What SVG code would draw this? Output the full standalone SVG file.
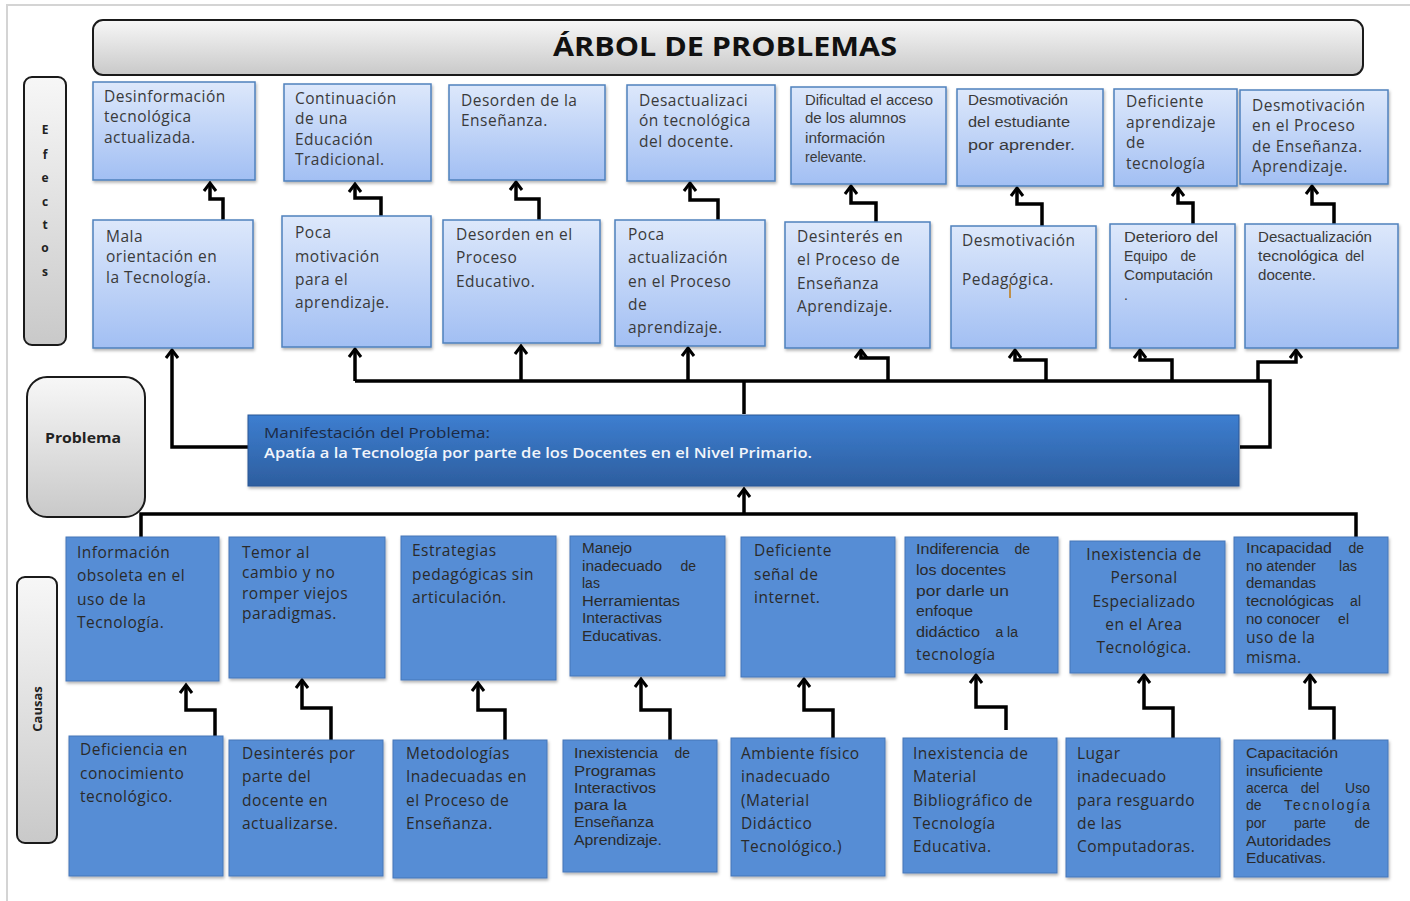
<svg xmlns="http://www.w3.org/2000/svg" width="1410" height="901" viewBox="0 0 1410 901">
<defs>
<linearGradient id="gEff" x1="0" y1="0" x2="0" y2="1"><stop offset="0" stop-color="#dde8fb"/><stop offset="1" stop-color="#a2bff3"/></linearGradient>
<linearGradient id="gGray" x1="0" y1="0" x2="0" y2="1"><stop offset="0" stop-color="#f7f7f7"/><stop offset="1" stop-color="#c9c9c9"/></linearGradient>
<linearGradient id="gProb" x1="0" y1="0" x2="0" y2="1"><stop offset="0" stop-color="#3d7ed0"/><stop offset="1" stop-color="#2d5e9f"/></linearGradient>
<filter id="sh" x="-10%" y="-10%" width="130%" height="130%"><feDropShadow dx="1" dy="2" stdDeviation="1.5" flood-color="#000" flood-opacity="0.3"/></filter>
<marker id="ah" markerUnits="userSpaceOnUse" markerWidth="16" markerHeight="16" refX="10" refY="8" orient="auto"><path d="M2,2 L10,8 L2,14" fill="none" stroke="#000" stroke-width="3"/></marker>
<style>
.eb{fill:url(#gEff);stroke:#4f81bd;stroke-width:1.5;filter:url(#sh)}
.cb{fill:#568dd5;stroke:#4676b8;stroke-width:1;filter:url(#sh)}
.gl{fill:url(#gGray);stroke:#1a1a1a;stroke-width:2}
.t{font-family:"Open Sans","Liberation Sans",sans-serif;font-size:15.5px;letter-spacing:0.5px;fill:#3a3a3a}
.ct{font-family:"Open Sans","Liberation Sans",sans-serif;font-size:15.5px;letter-spacing:0.5px;fill:#2a2a2a}
.s{font-family:"Liberation Sans",Arial,sans-serif;font-size:14px;fill:#2a2a2a}
.es{font-family:"Liberation Sans",Arial,sans-serif;font-size:14px;fill:#3a3a3a}
.lab{font-family:"Open Sans","Liberation Sans",sans-serif;font-weight:bold;fill:#222}
.c{fill:none;stroke:#000;stroke-width:3.5;stroke-linejoin:miter}
</style>
</defs>
<rect x="0" y="0" width="1410" height="901" fill="#fff"/>
<path d="M7,901 V5 H1410" fill="none" stroke="#d4d4d4" stroke-width="2"/>

<g id="title">
<rect class="gl" x="93" y="20" width="1270" height="55" rx="10"/>
<text x="725" y="56" text-anchor="middle" font-family="Open Sans, Liberation Sans, sans-serif" font-weight="bold" font-size="26" fill="#111" textLength="344" lengthAdjust="spacingAndGlyphs">ÁRBOL DE PROBLEMAS</text>
</g>

<g id="lab-efectos">
<rect class="gl" x="24" y="77" width="42" height="268" rx="8"/>
<g class="lab" font-size="12" text-anchor="middle">
<text x="45" y="134">E</text><text x="45" y="159">f</text><text x="45" y="182">e</text><text x="45" y="206">c</text><text x="45" y="229">t</text><text x="45" y="252">o</text><text x="45" y="276">s</text>
</g>
</g>

<g id="lab-problema">
<rect class="gl" x="27" y="377" width="118" height="140" rx="20"/>
<text class="lab" x="45" y="443" font-size="14" textLength="76" lengthAdjust="spacingAndGlyphs">Problema</text>
</g>

<g id="lab-causas">
<rect class="gl" x="17" y="577" width="40" height="266" rx="8"/>
<text class="lab" x="0" y="0" font-size="13" font-weight="normal" text-anchor="middle" transform="translate(42,709) rotate(-90)">Causas</text>
</g>

<g id="connectors">
<path class="c" d="M223,220 V199 H210 V183" marker-end="url(#ah)"/>
<path class="c" d="M381,216 V198 H355 V184" marker-end="url(#ah)"/>
<path class="c" d="M539,220 V199 H516 V182" marker-end="url(#ah)"/>
<path class="c" d="M718,220 V200 H690 V183" marker-end="url(#ah)"/>
<path class="c" d="M876,222 V203 H851 V186" marker-end="url(#ah)"/>
<path class="c" d="M1042,226 V204 H1017 V188" marker-end="url(#ah)"/>
<path class="c" d="M1193,224 V203 H1178 V188" marker-end="url(#ah)"/>
<path class="c" d="M1334,224 V204 H1312 V186" marker-end="url(#ah)"/>

<path class="c" d="M248,447 H172 V350" marker-end="url(#ah)"/>
<path class="c" d="M744,414 V381"/>
<path class="c" d="M355,381 H1270 V447 H1240"/>
<path class="c" d="M355,381 V349" marker-end="url(#ah)"/>
<path class="c" d="M521,381 V346" marker-end="url(#ah)"/>
<path class="c" d="M688,381 V348" marker-end="url(#ah)"/>
<path class="c" d="M888,381 V358 H861 V350" marker-end="url(#ah)"/>
<path class="c" d="M1046,381 V360 H1015 V350" marker-end="url(#ah)"/>
<path class="c" d="M1172,381 V360 H1140 V350" marker-end="url(#ah)"/>
<path class="c" d="M1258,381 V362 H1296 V350" marker-end="url(#ah)"/>

<path class="c" d="M744,514 V489" marker-end="url(#ah)"/>
<path class="c" d="M141,537 V514 H1356 V537"/>

<path class="c" d="M215,736 V710 H186 V685" marker-end="url(#ah)"/>
<path class="c" d="M331,740 V708 H302 V680" marker-end="url(#ah)"/>
<path class="c" d="M505,740 V710 H478 V683" marker-end="url(#ah)"/>
<path class="c" d="M670,740 V710 H641 V679" marker-end="url(#ah)"/>
<path class="c" d="M833,738 V710 H804 V679" marker-end="url(#ah)"/>
<path class="c" d="M1006,730 V707 H976 V675" marker-end="url(#ah)"/>
<path class="c" d="M1173,738 V708 H1144 V675" marker-end="url(#ah)"/>
<path class="c" d="M1334,740 V708 H1310 V675" marker-end="url(#ah)"/>
</g>

<!-- Effects top row -->
<g id="e1"><rect class="eb" x="93" y="82" width="162" height="98"/>
<text class="t" x="104" y="102">Desinformación</text><text class="t" x="104" y="122">tecnológica</text><text class="t" x="104" y="143">actualizada.</text></g>
<g id="e2"><rect class="eb" x="284" y="84" width="147" height="97"/>
<text class="t" x="295" y="104">Continuación</text><text class="t" x="295" y="124">de una</text><text class="t" x="295" y="145">Educación</text><text class="t" x="295" y="165">Tradicional.</text></g>
<g id="e3"><rect class="eb" x="449" y="85" width="156" height="95"/>
<text class="t" x="461" y="106">Desorden de la</text><text class="t" x="461" y="126">Enseñanza.</text></g>
<g id="e4"><rect class="eb" x="627" y="85" width="148" height="96"/>
<text class="t" x="639" y="106">Desactualizaci</text><text class="t" x="639" y="126">ón tecnológica</text><text class="t" x="639" y="147">del docente.</text></g>
<g id="e5"><rect class="eb" x="791" y="87" width="155" height="97"/>
<text class="es" x="805" y="105" textLength="128" lengthAdjust="spacingAndGlyphs">Dificultad el acceso</text><text class="es" x="805" y="123" textLength="101" lengthAdjust="spacingAndGlyphs">de los alumnos</text><text class="es" x="805" y="143" textLength="80" lengthAdjust="spacingAndGlyphs">información</text><text class="es" x="805" y="162" font-size="8">relevante.</text></g>
<g id="e6"><rect class="eb" x="957" y="89" width="146" height="97"/>
<text class="es" x="968" y="105" textLength="100" lengthAdjust="spacingAndGlyphs">Desmotivación</text><text class="es" x="968" y="127" textLength="102" lengthAdjust="spacingAndGlyphs">del  estudiante</text><text class="es" x="968" y="150" font-size="15" textLength="107" lengthAdjust="spacingAndGlyphs">por  aprender.</text></g>
<g id="e7"><rect class="eb" x="1114" y="89" width="123" height="97"/>
<text class="t" x="1126" y="107">Deficiente</text><text class="t" x="1126" y="128">aprendizaje</text><text class="t" x="1126" y="148">de</text><text class="t" x="1126" y="169">tecnología</text></g>
<g id="e8"><rect class="eb" x="1240" y="90" width="148" height="94"/>
<text class="t" x="1252" y="111">Desmotivación</text><text class="t" x="1252" y="131">en el Proceso</text><text class="t" x="1252" y="152">de Enseñanza.</text><text class="t" x="1252" y="172">Aprendizaje.</text></g>

<!-- Effects second row -->
<g id="e9"><rect class="eb" x="93" y="220" width="160" height="128"/>
<text class="t" x="106" y="242">Mala</text><text class="t" x="106" y="262">orientación en</text><text class="t" x="106" y="283">la Tecnología.</text></g>
<g id="e10"><rect class="eb" x="282" y="216" width="149" height="131"/>
<text class="t" x="295" y="238">Poca</text><text class="t" x="295" y="262">motivación</text><text class="t" x="295" y="285">para el</text><text class="t" x="295" y="308">aprendizaje.</text></g>
<g id="e11"><rect class="eb" x="443" y="220" width="157" height="123"/>
<text class="t" x="456" y="240">Desorden en el</text><text class="t" x="456" y="263">Proceso</text><text class="t" x="456" y="287">Educativo.</text></g>
<g id="e12"><rect class="eb" x="615" y="220" width="150" height="126"/>
<text class="t" x="628" y="240">Poca</text><text class="t" x="628" y="263">actualización</text><text class="t" x="628" y="287">en el Proceso</text><text class="t" x="628" y="310">de</text><text class="t" x="628" y="333">aprendizaje.</text></g>
<g id="e13"><rect class="eb" x="785" y="222" width="145" height="126"/>
<text class="t" x="797" y="242">Desinterés en</text><text class="t" x="797" y="265">el Proceso de</text><text class="t" x="797" y="289">Enseñanza</text><text class="t" x="797" y="312">Aprendizaje.</text></g>
<g id="e14"><rect class="eb" x="951" y="226" width="145" height="122"/>
<text class="t" x="962" y="246">Desmotivación</text><text class="t" x="962" y="285">Pedagógica.</text>
<line x1="1010" y1="284" x2="1010" y2="298" stroke="#c07a10" stroke-width="1.5"/></g>
<g id="e15"><rect class="eb" x="1110" y="224" width="125" height="124"/>
<text class="es" x="1124" y="242" textLength="94" lengthAdjust="spacingAndGlyphs">Deterioro del</text><text class="es" x="1124" y="261">Equipo</text><text class="es" x="1196" y="261" text-anchor="end">de</text><text class="es" x="1124" y="280" textLength="89" lengthAdjust="spacingAndGlyphs">Computación</text><text class="es" x="1124" y="300">.</text></g>
<g id="e16"><rect class="eb" x="1245" y="224" width="153" height="124"/>
<text class="es" x="1258" y="242" textLength="114" lengthAdjust="spacingAndGlyphs">Desactualización</text><text class="es" x="1258" y="261" textLength="80" lengthAdjust="spacingAndGlyphs">tecnológica</text><text class="es" x="1364" y="261" text-anchor="end">del</text><text class="es" x="1258" y="280" textLength="58" lengthAdjust="spacingAndGlyphs">docente.</text></g>

<!-- Problem -->
<g id="problema">
<rect x="248" y="415" width="991" height="71" fill="url(#gProb)" stroke="#2a5696" stroke-width="1" filter="url(#sh)"/>
<text x="264" y="438" font-family="Open Sans, Liberation Sans, sans-serif" font-size="14.5" fill="#1c2a44" textLength="226" lengthAdjust="spacingAndGlyphs">Manifestación del Problema:</text>
<text x="264" y="458" font-family="Open Sans, Liberation Sans, sans-serif" font-size="14.5" font-weight="600" fill="#f2f5fb" textLength="548" lengthAdjust="spacingAndGlyphs">Apatía  a la Tecnología por parte  de los Docentes en el Nivel Primario.</text>
</g>

<!-- Causes top row -->
<g id="c1"><rect class="cb" x="66" y="537" width="153" height="144"/>
<text class="ct" x="77" y="558">Información</text><text class="ct" x="77" y="581">obsoleta en el</text><text class="ct" x="77" y="605">uso de la</text><text class="ct" x="77" y="628">Tecnología.</text></g>
<g id="c2"><rect class="cb" x="229" y="537" width="156" height="141"/>
<text class="ct" x="242" y="558">Temor al</text><text class="ct" x="242" y="578">cambio y no</text><text class="ct" x="242" y="599">romper viejos</text><text class="ct" x="242" y="619">paradigmas.</text></g>
<g id="c3"><rect class="cb" x="401" y="536" width="155" height="144"/>
<text class="ct" x="412" y="556">Estrategias</text><text class="ct" x="412" y="580">pedagógicas sin</text><text class="ct" x="412" y="603">articulación.</text></g>
<g id="c4"><rect class="cb" x="570" y="536" width="155" height="140"/>
<text class="s" x="582" y="553" textLength="50" lengthAdjust="spacingAndGlyphs">Manejo</text><text class="s" x="582" y="571" textLength="80" lengthAdjust="spacingAndGlyphs">inadecuado</text><text class="s" x="696" y="571" text-anchor="end">de</text><text class="s" x="582" y="588">las</text><text class="s" x="582" y="606" textLength="98" lengthAdjust="spacingAndGlyphs">Herramientas</text><text class="s" x="582" y="623" textLength="80" lengthAdjust="spacingAndGlyphs">Interactivas</text><text class="s" x="582" y="641" textLength="80" lengthAdjust="spacingAndGlyphs">Educativas.</text></g>
<g id="c5"><rect class="cb" x="741" y="537" width="154" height="140"/>
<text class="ct" x="754" y="556">Deficiente</text><text class="ct" x="754" y="580">señal de</text><text class="ct" x="754" y="603">internet.</text></g>
<g id="c6"><rect class="cb" x="905" y="537" width="153" height="136"/>
<text class="s" x="916" y="554" textLength="83" lengthAdjust="spacingAndGlyphs">Indiferencia</text><text class="s" x="1030" y="554" text-anchor="end">de</text><text class="s" x="916" y="575" textLength="90" lengthAdjust="spacingAndGlyphs">los docentes</text><text class="s" x="916" y="596" textLength="93" lengthAdjust="spacingAndGlyphs">por darle un</text><text class="s" x="916" y="616" textLength="57" lengthAdjust="spacingAndGlyphs">enfoque</text><text class="s" x="916" y="637" textLength="64" lengthAdjust="spacingAndGlyphs">didáctico</text><text class="s" x="1018" y="637" text-anchor="end">a la</text><text class="ct" x="916" y="660">tecnología</text></g>
<g id="c7"><rect class="cb" x="1070" y="541" width="155" height="132"/>
<g text-anchor="middle"><text class="ct" x="1144" y="560">Inexistencia de</text><text class="ct" x="1144" y="583">Personal</text><text class="ct" x="1144" y="607">Especializado</text><text class="ct" x="1144" y="630">en el Area</text><text class="ct" x="1144" y="653">Tecnológica.</text></g></g>
<g id="c8"><rect class="cb" x="1234" y="537" width="154" height="136"/>
<text class="s" x="1246" y="553" textLength="86" lengthAdjust="spacingAndGlyphs">Incapacidad</text><text class="s" x="1364" y="553" text-anchor="end">de</text>
<text class="s" x="1246" y="571" textLength="70" lengthAdjust="spacingAndGlyphs">no atender</text><text class="s" x="1357" y="571" text-anchor="end">las</text>
<text class="s" x="1246" y="588" textLength="70" lengthAdjust="spacingAndGlyphs">demandas</text>
<text class="s" x="1246" y="606" textLength="88" lengthAdjust="spacingAndGlyphs">tecnológicas</text><text class="s" x="1361" y="606" text-anchor="end">al</text>
<text class="s" x="1246" y="624" textLength="74" lengthAdjust="spacingAndGlyphs">no conocer</text><text class="s" x="1349" y="624" text-anchor="end">el</text>
<text class="ct" x="1246" y="643">uso de la</text><text class="ct" x="1246" y="663">misma.</text></g>

<!-- Causes bottom row -->
<g id="c9"><rect class="cb" x="69" y="736" width="154" height="140"/>
<text class="ct" x="80" y="755">Deficiencia en</text><text class="ct" x="80" y="779">conocimiento</text><text class="ct" x="80" y="802">tecnológico.</text></g>
<g id="c10"><rect class="cb" x="229" y="740" width="154" height="136"/>
<text class="ct" x="242" y="759">Desinterés por</text><text class="ct" x="242" y="782">parte del</text><text class="ct" x="242" y="806">docente en</text><text class="ct" x="242" y="829">actualizarse.</text></g>
<g id="c11"><rect class="cb" x="393" y="740" width="154" height="138"/>
<text class="ct" x="406" y="759">Metodologías</text><text class="ct" x="406" y="782">Inadecuadas en</text><text class="ct" x="406" y="806">el Proceso de</text><text class="ct" x="406" y="829">Enseñanza.</text></g>
<g id="c12"><rect class="cb" x="563" y="740" width="154" height="132"/>
<text class="s" x="574" y="758" textLength="84" lengthAdjust="spacingAndGlyphs">Inexistencia</text><text class="s" x="690" y="758" text-anchor="end">de</text><text class="s" x="574" y="776" textLength="82" lengthAdjust="spacingAndGlyphs">Programas</text><text class="s" x="574" y="793" textLength="82" lengthAdjust="spacingAndGlyphs">Interactivos</text><text class="s" x="574" y="810" textLength="53" lengthAdjust="spacingAndGlyphs">para la</text><text class="s" x="574" y="827" textLength="80" lengthAdjust="spacingAndGlyphs">Enseñanza</text><text class="s" x="574" y="845" textLength="88" lengthAdjust="spacingAndGlyphs">Aprendizaje.</text></g>
<g id="c13"><rect class="cb" x="731" y="738" width="154" height="138"/>
<text class="ct" x="741" y="759">Ambiente físico</text><text class="ct" x="741" y="782">inadecuado</text><text class="ct" x="741" y="806">(Material</text><text class="ct" x="741" y="829">Didáctico</text><text class="ct" x="741" y="852">Tecnológico.)</text></g>
<g id="c14"><rect class="cb" x="903" y="738" width="154" height="135"/>
<text class="ct" x="913" y="759">Inexistencia de</text><text class="ct" x="913" y="782">Material</text><text class="ct" x="913" y="806">Bibliográfico de</text><text class="ct" x="913" y="829">Tecnología</text><text class="ct" x="913" y="852">Educativa.</text></g>
<g id="c15"><rect class="cb" x="1066" y="738" width="154" height="139"/>
<text class="ct" x="1077" y="759">Lugar</text><text class="ct" x="1077" y="782">inadecuado</text><text class="ct" x="1077" y="806">para resguardo</text><text class="ct" x="1077" y="829">de las</text><text class="ct" x="1077" y="852">Computadoras.</text></g>
<g id="c16"><rect class="cb" x="1234" y="740" width="154" height="137"/>
<text class="s" x="1246" y="758" textLength="92" lengthAdjust="spacingAndGlyphs">Capacitación</text><text class="s" x="1246" y="776" textLength="77" lengthAdjust="spacingAndGlyphs">insuficiente</text>
<text class="s" x="1246" y="793">acerca</text><text class="s" x="1310" y="793" text-anchor="middle">del</text><text class="s" x="1370" y="793" text-anchor="end">Uso</text>
<text class="s" x="1246" y="810">de</text><text class="s" x="1370" y="810" text-anchor="end" textLength="86" lengthAdjust="spacing">Tecnología</text>
<text class="s" x="1246" y="828">por</text><text class="s" x="1310" y="828" text-anchor="middle">parte</text><text class="s" x="1370" y="828" text-anchor="end">de</text>
<text class="s" x="1246" y="846" textLength="85" lengthAdjust="spacingAndGlyphs">Autoridades</text><text class="s" x="1246" y="863" textLength="80" lengthAdjust="spacingAndGlyphs">Educativas.</text></g>
</svg>
